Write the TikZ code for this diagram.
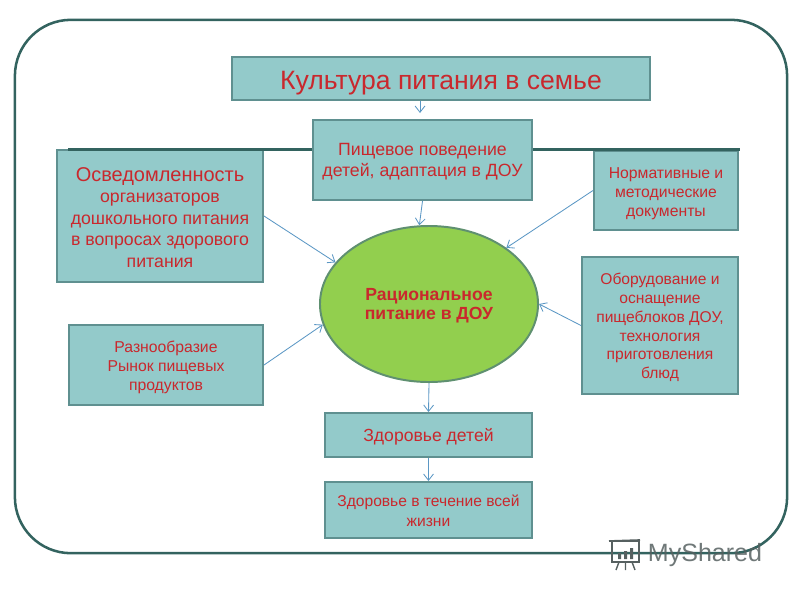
\documentclass[tikz,border=0pt]{standalone}
\usepackage{fontspec}
\setmainfont{Liberation Sans}
\usepackage{color}
\usetikzlibrary{shapes.geometric, arrows.meta}
\definecolor{boxfill}{HTML}{93CACA}
\definecolor{boxline}{HTML}{5F9090}
\definecolor{ovalline}{HTML}{5F9070}
\definecolor{framecol}{HTML}{33635F}
\definecolor{textred}{HTML}{C9282D}
\definecolor{arrowcol}{HTML}{5B97C4}
\definecolor{ovalfill}{HTML}{92CF4E}
\definecolor{markgray}{HTML}{566060}
\newcommand{\fsize}[2]{\fontsize{#1}{#2}\selectfont}
\newcommand{\drop}[1]{\rule{0pt}{#1}}
\tikzset{>={Straight Barb[length=4.5pt,width=7pt]}}
\tikzset{
  infobox/.style={draw=boxline, fill=boxfill, line width=1.4pt, text=textred, align=center, inner sep=0pt},
  flow/.style={->, color=arrowcol, line width=0.6pt}
}
\begin{document}
\begin{tikzpicture}[x=0.025cm, y=-0.025cm]
\useasboundingbox (0,0) rectangle (800,600);
\node[draw=framecol, line width=1.8pt, rounded corners=1.4cm, minimum width=19.3cm, minimum height=13.33cm] (frame) at (401,286.5) {};
\node[infobox, minimum width=10.45cm, minimum height=1.08cm, font=\fsize{18.9}{22}] (title) at (441,78.5) {\drop{19.5pt}Культура питания в семье};
\node[infobox, minimum width=5.15cm, minimum height=3.3cm, font=\fsize{12.6}{15.2}] (aware) at (160,216)
{{\fsize{14.2}{16}\drop{12pt}Осведомленность}\\организаторов\\дошкольного питания\\в вопросах здорового\\питания};
\node[infobox, minimum width=3.6cm, minimum height=1.98cm, font=\fsize{11.2}{13.5}] (norm) at (666,190.5) {\drop{12.5pt}Нормативные и\\методические\\документы};
\coordinate (barleft) at (68,149.5);
\coordinate (barright) at (740,149.5);
\draw[framecol, line width=2pt] (barleft) -- (barright);
\node[infobox, minimum width=5.48cm, minimum height=2cm, font=\fsize{12.6}{15}] (behav) at (422.5,160) {\drop{11pt}Пищевое поведение\\детей, адаптация в ДОУ};
\node[infobox, minimum width=3.9cm, minimum height=3.43cm, font=\fsize{11.1}{13.4}] (equip) at (660,325.5) {\drop{11pt}Оборудование и\\оснащение\\пищеблоков ДОУ,\\технология\\приготовления\\блюд};
\node[infobox, minimum width=4.85cm, minimum height=2cm, font=\fsize{11.2}{13.5}] (variety) at (166,365) {\drop{11pt}Разнообразие\\Рынок пищевых\\продуктов};
\node[ellipse, draw=ovalline, fill=ovalfill, line width=1.4pt, text=textred, align=center, inner sep=0pt, minimum width=5.45cm, minimum height=3.9cm, font=\fsize{12.5}{14.2}\bfseries] (oval) at (429,304) {\drop{11pt}Рациональное\\питание в ДОУ};
\node[infobox, minimum width=5.18cm, minimum height=1.1cm, font=\fsize{12.5}{15}] (child) at (428.5,435) {\drop{12pt}Здоровье детей};
\node[infobox, minimum width=5.18cm, minimum height=1.4cm, font=\fsize{11.1}{14.2}] (life) at (428.5,510) {\drop{10pt}Здоровье в течение всей\\жизни};
\coordinate (toptip) at (420,113);
\path[flow]
(title.south -| toptip) edge (toptip)
(behav.south) edge (oval.97)
(aware.east) edge (oval.156)
(norm.west) edge (oval.36)
(equip.west) edge (oval.0)
(variety.east) edge (oval.191)
(oval.south) edge (child.north)
(child.south) edge (life.north)
;
% watermark
\node[text=markgray, opacity=0.85, font=\fsize{17.8}{20}, inner sep=0pt] (mark) at (705,555) {MyShared};
\draw[markgray, line width=1.2pt] (612,541) rectangle (639,562);
\draw[markgray, line width=1.2pt] (609,541) -- (640,540);
\fill[markgray] (618,553) rectangle (621,559) (624,551) rectangle (627,559) (630,548) rectangle (633,559);
\draw[markgray, line width=1pt] (619,562) -- (616,570) (625.5,562) -- (625.5,570) (632,562) -- (635,570);
\end{tikzpicture}
\end{document}
